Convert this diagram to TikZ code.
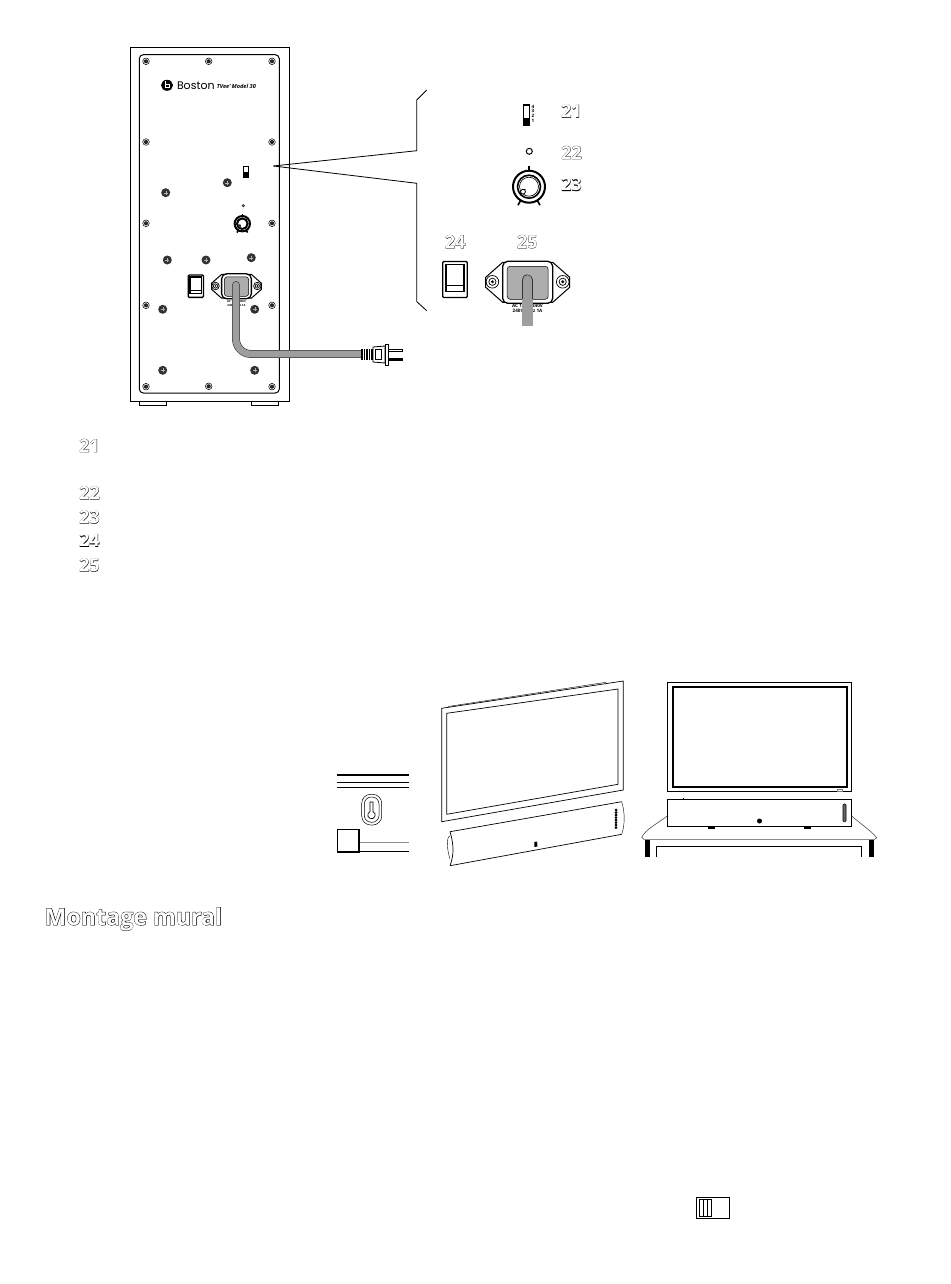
\documentclass[tikz,border=0pt]{standalone}
\usepackage{fontspec}
\setmainfont{Open Sans}
\newfontfamily\logofont{Poppins}
\newfontfamily\ghostfont[FakeBold=1.6]{Open Sans Bold}
\newfontfamily\heavyghost[FakeBold=3.2]{Open Sans Bold}
\newfontfamily\facefont{Open Sans Bold}

\definecolor{cablegray}{gray}{0.62}
\definecolor{inletgray}{gray}{0.68}

% black swollen copy under a white copy
\newcommand{\outlined}[2]{\fontsize{#1}{#1}\selectfont\rlap{\ghostfont\color{black}#2}{\facefont\color{white}#2}}
\newcommand{\headlined}[2]{\fontsize{#1}{#1}\selectfont\rlap{\heavyghost\color{black}#2}{\facefont\color{white}#2}}

\tikzset{
  callnum/.style={inner sep=0pt},
  listnum/.style={callnum, anchor=west},
  panelline/.style={draw=black, line width=1pt},
  callout/.style={draw=black, line width=0.8pt},
  thinline/.style={draw=black, line width=0.7pt},
  smallscrew/.pic={
    \draw[line width=0.5pt, fill=white] (0,0) circle (3.3);
    \fill[black!85] (0,0) circle (2.1);
  },
  bigscrew/.pic={
    \fill[black!80] (0,0) circle (4.5);
    \draw[black!30, line width=0.35pt] (-2,0) -- (2,0) (0,-2) -- (0,2);
  },
  knob/.pic={
    \draw[line width=2pt] (0,0) circle (16);
    \draw[line width=1.6pt] (0,0) circle (11.5);
    \draw[line width=0.6pt] (0,0) circle (9.5);
    \draw[line width=0.9pt] (-9.5,6) -- (-3.5,2.5);
    \draw[line width=0.8pt, fill=white] (-6,5) circle (2.4);
    \draw[line width=1.6pt] (0,-21) -- (0,-15.5);
    \draw[line width=1.6pt] (-11,18.5) -- (-8.5,14);
    \draw[line width=1.6pt] (11,18.5) -- (8.5,14);
  },
  rocker/.pic={
    \draw[line width=1.3pt, rounded corners=1pt] (-12.3,-18) rectangle (12.3,18);
    \draw[line width=1.5pt] (-9,-15) rectangle (9,12);
    \draw[line width=0.7pt] (-9,6) -- (9,6);
  },
  inlet/.pic={
    \draw[line width=1pt, fill=white] (-25,-20) -- (-42,-5) -- (-42,5) -- (-25,20) -- (25,20) -- (42,5) -- (42,-5) -- (25,-20) -- cycle;
    \draw[line width=1.3pt, rounded corners=5pt, fill=white] (-25,-21) rectangle (25,21);
    \draw[fill=inletgray, line width=0.5pt, rounded corners=3pt] (-20.5,-16) rectangle (20.5,17);
    \foreach \sx in {-35.3,35} {
      \draw[line width=0.7pt] (\sx,-0.5) circle (6.3);
      \draw[line width=0.7pt] (\sx,-0.5) circle (3.6);
      \fill (\sx,-0.5) circle (1.6);
    }
  },
  tinytext/.style={font=\bfseries\fontsize{4.6}{5}\selectfont, inner sep=0pt},
  microtext/.style={font=\bfseries\fontsize{2.8}{3}\selectfont, inner sep=0pt}
}

\begin{document}
\begin{tikzpicture}[x=1pt, y=-1pt]
  \useasboundingbox (0,0) rectangle (950,1284);

  % Cabinet rear
  \draw[panelline] (130,48) rectangle (289.3,401.7);
  \draw[panelline, rounded corners=4pt] (139.3,54.7) rectangle (279.3,393);
  \draw[thinline] (139.3,401.7) -- (139.3,405.5) -- (166.7,405.5) -- (166.7,401.7);
  \draw[thinline] (251.3,401.7) -- (251.3,405.5) -- (278.7,405.5) -- (278.7,401.7);

  \foreach \px/\py in {146/61.3, 208.7/61.3, 272/61.3, 146/142, 272/142, 146/223.3, 272/223.3,
                       146/305.3, 272/305.3, 146/386.7, 208.7/386.3, 272/386.7}
    \pic at (\px,\py) {smallscrew};
  \foreach \px/\py in {227.3/182.7, 165.7/192.7, 167.3/260, 206/260, 251.3/257.7,
                       162.7/309.3, 254.7/309.3, 162.7/370.3, 254.7/370.3}
    \pic at (\px,\py) {bigscrew};

  % Logo line
  \fill (167,85.3) ellipse (6 and 5.5);
  \draw[white, line width=1pt] (165.5,81.5) -- (165.5,87.5) -- (169,87.5) -- (169,84.5) -- (165.5,84.5);
  \node[font=\logofont\fontsize{11}{11}\selectfont, anchor=west, inner sep=0pt] (brand) at (176.8,85.3) {Boston};
  \node[font=\itshape\bfseries\fontsize{5.6}{6}\selectfont, anchor=west, inner sep=0pt] (model) at (216.7,86) {TVee' Model 30};

  % Small controls on the panel
  \draw[line width=0.9pt] (243.5,166.7) rectangle (248,177.3);
  \fill (243.5,172.5) rectangle (248,177.3);
  \draw[line width=0.5pt] (243.3,205.7) circle (1.2);
  \pic[scale=0.48] at (242.3,223.7) {knob};
  \pic[scale=0.62] at (195.8,286.2) {rocker};
  \pic[scale=0.595] at (236.5,286.3) {inlet};
  \node[microtext] (panelvolt) at (236.5,301.5) {AC 115V/240V};
  \node[microtext] (panelfreq) at (236.5,305) {240V\,50Hz 1A};

  % Cord and plug
  \coordinate (cordtop) at (236,285);
  \coordinate (cordend) at (361,354);
  \draw[black!80, line width=7.8pt, line cap=round, rounded corners=15pt] (cordtop) -- (236,354) -- (cordend);
  \draw[cablegray, line width=6.6pt, line cap=round, rounded corners=15pt] (cordtop) -- (236,354) -- (cordend);
  \fill[white] (cordend) ++(0,-6) rectangle ++(3,12);
  \foreach \qx in {361,363.5,366,368.5,371}
    \fill (\qx,349) rectangle ++(1.5,10.6);
  \draw[line width=0.8pt, fill=white] (373,347) -- (385,346) -- (385,363) -- (373,362) -- cycle;
  \draw[line width=1pt, fill=white] (375.5,349.5) rectangle (381,359.5);
  \draw[line width=0.8pt, fill=white] (385,344.5) rectangle (388.3,365);
  \draw[line width=0.5pt, fill=white] (388.3,349.3) rectangle (402.7,351.7);
  \fill (388.3,358.3) rectangle (402.7,361);

  % Call-out lines
  \coordinate (calltip) at (273.3,166);
  \coordinate (upperknee) at (416.8,150.7);
  \coordinate (lowerknee) at (416.8,183.3);
  \draw[callout] (calltip) -- (upperknee) -- (416.8,100) -- (426.7,90);
  \draw[callout] (calltip) -- (lowerknee) -- (416.8,301.7) -- (426.7,310.7);

  % Enlarged controls
  \draw[line width=1.3pt] (523.6,105) rectangle (529.6,125);
  \fill (523.6,117.6) rectangle (529.6,125);
  \foreach \ty/\tl in {106.5/4, 111/3, 115.5/2, 120.5/1}
    \node[tinytext] at (533,\ty) {\tl};
  \draw[line width=1pt] (529.3,151.3) circle (3);
  \pic at (529,186.7) {knob};
  \pic at (455,279.5) {rocker};
  \pic at (527.7,282.3) {inlet};
  \node[tinytext] (inletvolt) at (527.5,305.5) {AC 115V/240V};
  \node[tinytext] (inletfreq) at (527.5,311) {240V\,50Hz 1A};
  \coordinate (leadtop) at (527.3,280);
  \coordinate (leadend) at (527.3,326);
  \draw[black!80, line width=11pt, line cap=round] (leadtop) -- (527.3,300);
  \draw[cablegray, line width=9.6pt, line cap=round] (leadtop) -- (527.3,303);
  \draw[cablegray, line width=10.5pt] (527.3,299) -- (leadend);

  % Call-out numbers
  \node[callnum, anchor=west] (n21) at (561,111) {\outlined{18}{21}};
  \node[callnum, anchor=west] (n22) at (561,152.5) {\outlined{18}{22}};
  \node[callnum, anchor=west] (n23) at (561,184.5) {\outlined{18}{23}};
  \node[callnum] (n24) at (455.2,241.7) {\outlined{18}{24}};
  \node[callnum] (n25) at (527.3,241.7) {\outlined{18}{25}};

  % List numbers
  \foreach \ly/\lt in {445.5/21, 492.8/22, 517/23, 540.3/24, 565/25}
    \node[listnum] (l\lt) at (79,\ly) {\outlined{18}{\lt}};

  % Wall detail
  \draw[line width=2pt] (336.7,774.7) -- (409,774.7);
  \draw[line width=0.9pt] (336.7,782.3) -- (409,782.3);
  \draw[line width=0.9pt] (336.7,787.7) -- (409,787.7);
  \draw[line width=0.5pt, rounded corners=9pt] (361.7,794.3) rectangle (381.7,825);
  \draw[line width=0.5pt, rounded corners=7pt] (364.3,797) rectangle (379,822.3);
  \draw[line width=0.7pt] (370,802) -- (373,802) -- (373,811.6) arc[start angle=-66, end angle=246, radius=3.7] -- cycle;
  \draw[black!45, line width=0.7pt] (359,842.7) -- (409,842.7);
  \draw[line width=0.8pt] (359,851) -- (409,851);
  \draw[line width=1.8pt] (337.5,829.5) rectangle (359,851.7);

  % Tilted set on the wall
  \draw[thinline] (441.7,708.3) -- (623.3,681) -- (623.3,790) -- (441.7,821.7) -- cycle;
  \draw[thinline] (446.7,713.3) -- (618,689) -- (618,784.3) -- (446.7,814.3) -- cycle;
  \draw[line width=0.4pt] (448,706.5) -- (606,682.3);
  \draw[thinline] (450,831.7) -- (621.7,801.7);
  \draw[thinline] (450,865.7) -- (621.7,834.3);
  \draw[thinline] (450,831.7) .. controls (454,845) and (454,855) .. (450,865.7);
  \draw[line width=0.4pt] (450,836) .. controls (446,837) and (447,850) .. (450,859);
  \draw[line width=0.4pt] (621.7,801.7) .. controls (625,812) and (625,825) .. (621.7,834.3);
  \foreach \dy in {810,812.5,...,829}
    \fill (616,\dy) circle (1.5);
  \fill (534.3,842) -- (537,841.5) -- (537.5,846.5) -- (534.3,847) -- cycle;

  % Set on the table
  \draw[line width=1pt] (667.3,682.3) rectangle (851.7,791.7);
  \draw[line width=2pt] (672.7,687) rectangle (847.3,787.3);
  \draw[black!50, line width=0.4pt] (837.5,789) rectangle (842.5,791);
  \draw[line width=1pt] (667.7,799.3) rectangle (851.7,826.7);
  \draw[line width=0.5pt] (683.3,799.3) -- (683.3,798);
  \fill (708,827) rectangle (715,828.5);
  \fill (804,827) rectangle (810.5,828.5);
  \fill (759.5,821) circle (2.5);
  \draw[line width=0.6pt, rounded corners=1pt, fill=black!60] (843,804) rectangle (846,821.7);
  \draw[black!70, line width=0.6pt] (667.3,816) .. controls (655,825) and (645,830) .. (641.7,837.5)
    -- (644,839.3) -- (874.5,839.3) -- (876.7,837.5) .. controls (870,830) and (862,825) .. (851.7,816);
  \fill (645,840) rectangle (650,857);
  \fill (869,840) rectangle (874,857);
  \draw[line width=0.8pt] (656.3,857) -- (656.3,846.3) -- (861.7,846.3) -- (861.7,857);

  % Heading
  \node[anchor=base west, inner sep=0pt] (mural) at (44.5,925) {\headlined{23.2}{Montage mural}};

  % Position switch
  \draw[line width=1pt] (696.7,1197.7) rectangle (729.3,1218.3);
  \foreach \sx in {699.3,703.3,707.3}
    \draw[line width=0.9pt] (\sx,1199.7) rectangle ++(4,16.6);
\end{tikzpicture}
\end{document}
